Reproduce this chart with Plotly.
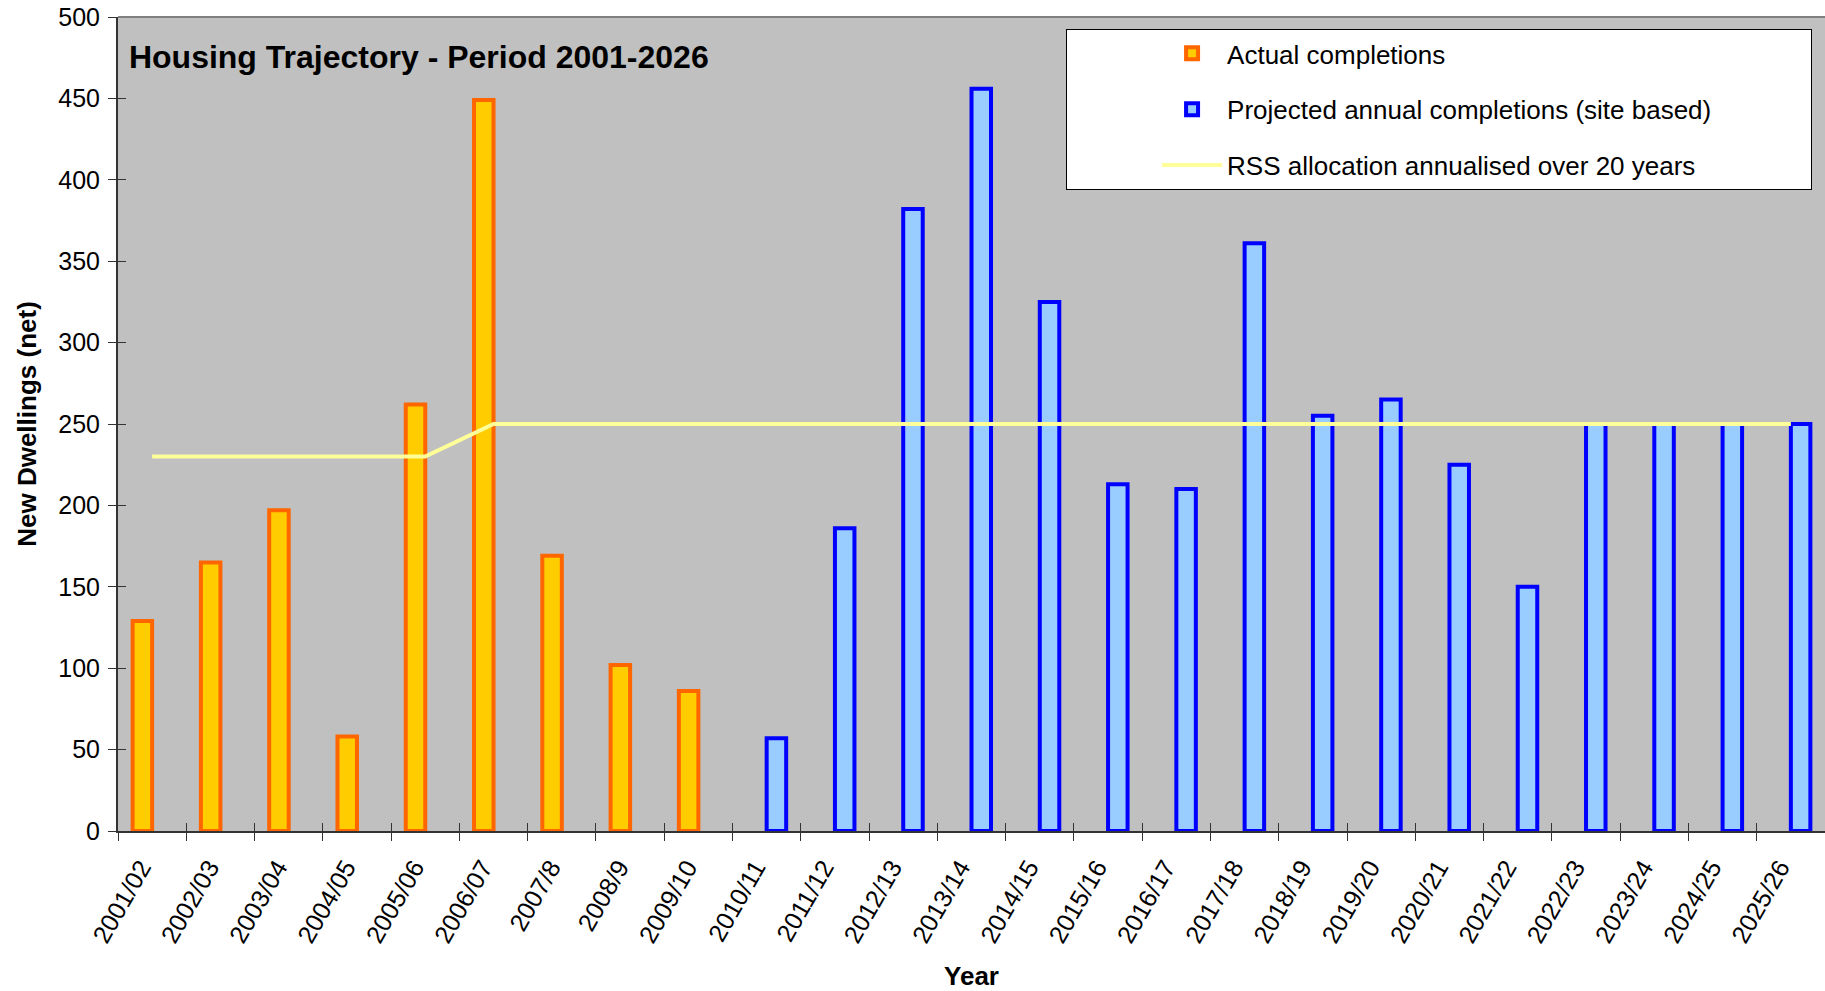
import plotly.graph_objects as go

# Financial years on the category axis
years = ["2001/02", "2002/03", "2003/04", "2004/05", "2005/06", "2006/07",
         "2007/8", "2008/9", "2009/10", "2010/11", "2011/12", "2012/13",
         "2013/14", "2014/15", "2015/16", "2016/17", "2017/18", "2018/19",
         "2019/20", "2020/21", "2021/22", "2022/23", "2023/24", "2024/25",
         "2025/26"]

# Net new dwellings already built
actual_completions = [129, 165, 197, 58, 262, 449, 169, 102, 86,
                      None, None, None, None, None, None, None, None,
                      None, None, None, None, None, None, None, None]

# Site-based projection for the remaining years
projected_completions = [None, None, None, None, None, None, None, None, None,
                         57, 186, 382, 456, 325, 213, 210, 361,
                         255, 265, 225, 150, 250, 250, 250, 250]

# Regional Spatial Strategy requirement per year
rss_annualised = [230, 230, 230, 230, 230, 250, 250, 250, 250, 250, 250, 250,
                  250, 250, 250, 250, 250, 250, 250, 250, 250, 250, 250, 250,
                  250]

y_ticks = [0, 50, 100, 150, 200, 250, 300, 350, 400, 450, 500]

FONT = "Liberation Sans, Arial, sans-serif"
AXIS_COLOR = "#333333"
# non-breaking spaces widen the legend box on the right
LEGEND_PAD = "\u00a0" * 13

fig = go.Figure()

fig.add_trace(go.Bar(
    x=years, y=actual_completions, name="Actual completions",
    legendgroup="actual",
    marker=dict(color="#FFCC00", line=dict(color="#FF6600", width=4)),
))
fig.add_trace(go.Bar(
    x=years, y=projected_completions,
    name="Projected annual completions (site based)" + LEGEND_PAD,
    legendgroup="projected",
    marker=dict(color="#99CCFF", line=dict(color="#0000FF", width=4)),
))
fig.add_trace(go.Scatter(
    x=years, y=rss_annualised, mode="lines",
    name="RSS allocation annualised over 20 years",
    legendgroup="rss",
    line=dict(color="#FFFF99", width=4),
))
# Carrier for the inner half of the tick marks (ticks cross the axes)
fig.add_trace(go.Scatter(
    x=years, y=[None] * len(years), mode="lines", xaxis="x2", yaxis="y2",
    showlegend=False, hoverinfo="skip",
))

fig.update_layout(
    width=1825, height=991,
    margin=dict(l=118, r=0, t=17, b=160, autoexpand=False),
    paper_bgcolor="white", plot_bgcolor="#C0C0C0",
    barmode="group", bargap=0.4286, bargroupgap=0,
    font=dict(family=FONT, size=25, color="black"),
    title=dict(
        text="<b>Housing Trajectory - Period 2001-2026</b>",
        font=dict(family=FONT, size=32, color="black"),
        xref="paper", x=0.0064, xanchor="left",
        yref="container", y=0.9425, yanchor="middle",
    ),
    legend=dict(
        x=0.5554, y=0.9853, xref="paper", yref="paper",
        xanchor="left", yanchor="top",
        bgcolor="white", bordercolor="black", borderwidth=1,
        font=dict(family=FONT, size=26, color="black"),
        traceorder="grouped", tracegroupgap=19,
        itemwidth=60, indentation=90,
    ),
    xaxis=dict(
        type="category", categoryorder="array", categoryarray=years,
        range=[-0.5, 24.5], tickson="boundaries",
        ticks="outside", ticklen=8, tickwidth=1, tickcolor=AXIS_COLOR,
        showline=True, linecolor=AXIS_COLOR, linewidth=2,
        showgrid=False, zeroline=False, tickangle=-60,
        ticklabelshift=-11, ticklabelstandoff=10,
        tickfont=dict(size=25),
        title=dict(text="<b>Year</b>", font=dict(size=26), standoff=29),
    ),
    yaxis=dict(
        range=[0, 500], tickvals=y_ticks,
        ticks="outside", ticklen=8, tickwidth=1, tickcolor=AXIS_COLOR,
        showline=True, linecolor=AXIS_COLOR, linewidth=2,
        showgrid=False, zeroline=False, ticklabelstandoff=3,
        tickfont=dict(size=25),
        title=dict(text="<b>New Dwellings (net)</b>", font=dict(size=26),
                   standoff=14),
    ),
    xaxis2=dict(
        type="category", categoryorder="array", categoryarray=years,
        range=[-0.5, 24.5], tickson="boundaries", overlaying="x",
        anchor="y", side="bottom",
        ticks="inside", ticklen=8, tickwidth=1, tickcolor=AXIS_COLOR,
        showticklabels=False, showline=False, showgrid=False, zeroline=False,
    ),
    yaxis2=dict(
        range=[0, 500], tickvals=y_ticks, overlaying="y", anchor="x",
        side="left",
        ticks="inside", ticklen=8, tickwidth=1, tickcolor=AXIS_COLOR,
        showticklabels=False, showline=False, showgrid=False, zeroline=False,
    ),
    shapes=[dict(type="line", xref="paper", yref="paper",
                 x0=0, x1=1, y0=1, y1=1,
                 line=dict(color="#808080", width=2))],
)

fig.write_html("out.html")
